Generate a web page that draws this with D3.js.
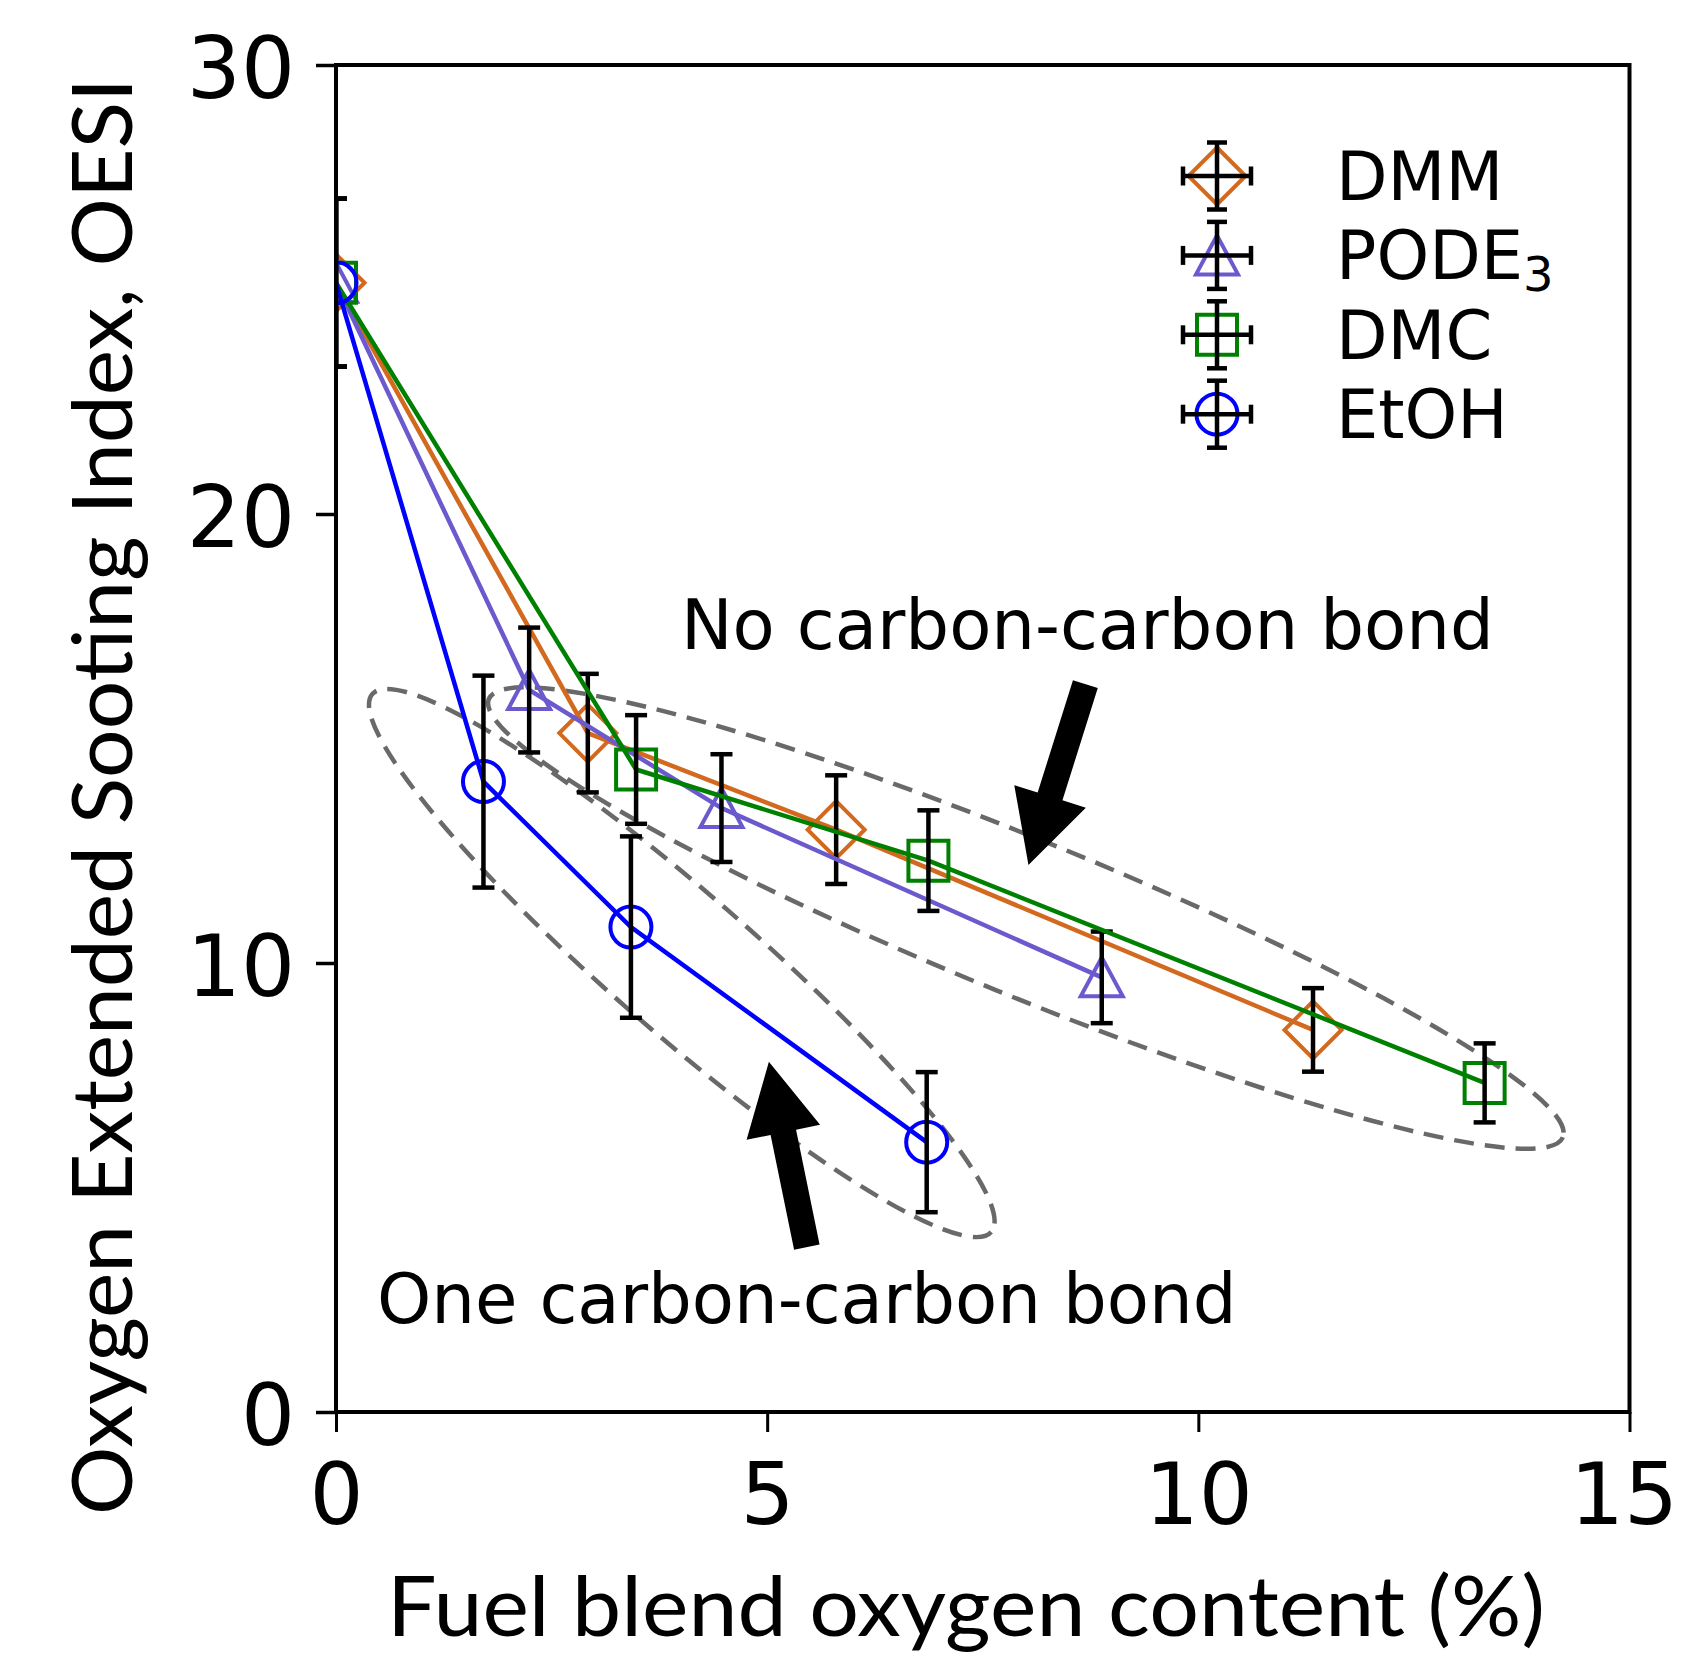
<!DOCTYPE html>
<html>
<head>
<meta charset="utf-8">
<script src="https://cdn.jsdelivr.net/npm/d3@7"></script>
<style>
  body { margin: 0; background: #fff; }
</style>
</head>
<body>
<script>
// Données (teneur en oxygène %, OESI, incertitude)
const seriesNames = ['DMM', 'PODE3', 'DMC', 'EtOH']

const dmmX = [0, 2.92, 5.80, 11.33]
const dmmY = [25.15, 15.12, 12.97, 8.51]
const dmmErr = [1.87, 1.32, 1.21, 0.93]

const podeX = [0, 2.24, 4.47, 8.88]
const podeY = [25.15, 16.08, 13.45, 9.68]
const podeErr = [1.87, 1.39, 1.20, 1.02]

const dmcX = [0, 3.48, 6.87, 13.32]
const dmcY = [25.15, 14.31, 12.28, 7.33]
const dmcErr = [1.87, 1.21, 1.12, 0.88]

const etohX = [0, 1.71, 3.42, 6.85]
const etohY = [25.15, 14.04, 10.80, 6.01]
const etohErr = [1.87, 2.36, 2.02, 1.56]

const xTicks = [0, 5, 10, 15]
const yTicks = [0, 10, 20, 30]

const W = 1682, H = 1654
let svg = d3.select('body').append('svg')
    .attr('width', W)
    .attr('height', H)
    .style('font-family', 'DejaVu Sans')

svg.append('rect').attr('width', W).attr('height', H).attr('fill', '#fff')

let x = d3.scaleLinear().domain([0, 15]).range([336, 1629.5])
let y = d3.scaleLinear().domain([0, 30]).range([1412, 65])

// style de chaque série
const styles = {
    DMM: { color: '#d2691e', marker: 'diamond' },
    PODE3: { color: '#6a5acd', marker: 'triangle' },
    DMC: { color: '#008000', marker: 'square' },
    EtOH: { color: '#0000ff', marker: 'circle' }
}

const series = [
    { name: 'DMM', xs: dmmX, ys: dmmY, es: dmmErr },
    { name: 'PODE3', xs: podeX, ys: podeY, es: podeErr },
    { name: 'DMC', xs: dmcX, ys: dmcY, es: dmcErr },
    { name: 'EtOH', xs: etohX, ys: etohY, es: etohErr }
].map(s => ({ name: s.name, pts: s.xs.map((v, i) => ({ x: v, y: s.ys[i], e: s.es[i] })) }))

// forme des marqueurs (centrés sur 0,0)
function markerPath(type) {
    switch (type) {
        case 'diamond': return 'M0,-28.5L28.5,0L0,28.5L-28.5,0Z'
        case 'triangle': return 'M0,-20L21,19L-21,19Z'
        case 'square': return 'M-20,-20H20V20H-20Z'
        case 'circle': return d3.arc()({ innerRadius: 0, outerRadius: 20.5, startAngle: 0, endAngle: 2 * Math.PI })
    }
}

// zone de tracé (clip)
svg.append('clipPath').attr('id', 'plotArea')
    .append('rect')
    .attr('x', x(0)).attr('y', y(30))
    .attr('width', x(15) - x(0)).attr('height', y(0) - y(30))

let plot = svg.append('g').attr('clip-path', 'url(#plotArea)')

// Ellipses en pointillés
const ellipses = [
    { cx: 8.0, cy: 11.0, rx: 580, ry: 78, angle: 22.2 },
    { cx: 4.01, cy: 10.0, rx: 410, ry: 70, angle: 41 }
]
ellipses.forEach(el => {
    plot.append('ellipse')
        .attr('cx', x(el.cx)).attr('cy', y(el.cy))
        .attr('rx', el.rx).attr('ry', el.ry)
        .attr('transform', `rotate(${el.angle},${x(el.cx)},${y(el.cy)})`)
        .attr('fill', 'none')
        .attr('stroke', '#696969')
        .attr('stroke-width', 4.5)
        .attr('stroke-dasharray', '20,11')
})

// Courbes, marqueurs, barres d'erreur
let line = d3.line().x(d => x(d.x)).y(d => y(d.y))
series.forEach(s => {
    let st = styles[s.name]
    plot.append('path')
        .datum(s.pts)
        .attr('d', line)
        .attr('fill', 'none')
        .attr('stroke', st.color)
        .attr('stroke-width', 4.5)

    plot.append('g').selectAll('path')
        .data(s.pts)
        .join('path')
        .attr('transform', d => `translate(${x(d.x)},${y(d.y)})`)
        .attr('d', markerPath(st.marker))
        .attr('fill', 'none')
        .attr('stroke', st.color)
        .attr('stroke-width', 4)

    let eb = plot.append('g').attr('stroke', 'black').attr('stroke-width', 4.5)
    s.pts.forEach(d => {
        let cx = x(d.x), y1 = y(d.y + d.e), y2 = y(d.y - d.e)
        eb.append('line').attr('x1', cx).attr('x2', cx).attr('y1', y1).attr('y2', y2)
        eb.append('line').attr('x1', cx - 11).attr('x2', cx + 11).attr('y1', y1).attr('y2', y1)
        eb.append('line').attr('x1', cx - 11).attr('x2', cx + 11).attr('y1', y2).attr('y2', y2)
    })
})

// Flèches noires
const arrows = [
    { from: [8.69, 16.21], to: [8.03, 12.18] },
    { from: [5.46, 3.67], to: [5.02, 7.80] }
]
arrows.forEach(a => {
    let tx = x(a.from[0]), ty = y(a.from[1]), px = x(a.to[0]), py = y(a.to[1])
    let len = Math.hypot(px - tx, py - ty)
    let ux = (px - tx) / len, uy = (py - ty) / len
    let nx = -uy, ny = ux
    let w = 13, h = 37.5, L = 72
    let bx = px - ux * L, by = py - uy * L
    let pts = [
        [tx + nx * w, ty + ny * w], [bx + nx * w, by + ny * w], [bx + nx * h, by + ny * h],
        [px, py],
        [bx - nx * h, by - ny * h], [bx - nx * w, by - ny * w], [tx - nx * w, ty - ny * w]
    ]
    plot.append('polygon').attr('points', pts.map(p => p.join(',')).join(' ')).attr('fill', 'black')
})

// Textes d'annotation
svg.append('text').attr('x', 681).attr('y', 649).attr('font-size', 69).text('No carbon-carbon bond')
svg.append('text').attr('x', 377).attr('y', 1323).attr('font-size', 69).text('One carbon-carbon bond')

// Axes
let xAxis = svg.append('g')
    .attr('transform', `translate(0,${y(0)})`)
    .call(d3.axisBottom(x).tickValues(xTicks).tickSize(20).tickSizeOuter(0))
xAxis.select('.domain').remove()
xAxis.selectAll('line').attr('stroke-width', 3)
xAxis.selectAll('text')
    .attr('y', 112).attr('dy', null)
    .attr('dx', (d, i) => i === xTicks.length - 1 ? -6 : 0)
    .attr('font-size', 85).attr('font-family', 'DejaVu Sans').attr('fill', 'black')

let yAxis = svg.append('g')
    .attr('transform', `translate(${x(0)},0)`)
    .call(d3.axisLeft(y).tickValues(yTicks).tickSize(20).tickSizeOuter(0))
yAxis.select('.domain').remove()
yAxis.selectAll('line').attr('stroke-width', 3.5)
yAxis.selectAll('text')
    .attr('x', -41).attr('dy', null).attr('y', 32)
    .attr('font-size', 85).attr('font-family', 'DejaVu Sans').attr('fill', 'black')

// cadre
svg.append('rect')
    .attr('x', x(0)).attr('y', y(30))
    .attr('width', x(15) - x(0)).attr('height', y(0) - y(30))
    .attr('fill', 'none').attr('stroke', 'black').attr('stroke-width', 4)

// Titres des axes
svg.append('text')
    .attr('x', 387).attr('y', 1636)
    .attr('font-family', 'Lato').attr('font-size', 84)
    .attr('textLength', 1158).attr('lengthAdjust', 'spacingAndGlyphs')
    .text('Fuel blend oxygen content (%)')

svg.append('text')
    .attr('transform', 'translate(132,796.5) rotate(-90)')
    .attr('text-anchor', 'middle')
    .attr('font-family', 'Lato').attr('font-size', 84)
    .attr('textLength', 1437).attr('lengthAdjust', 'spacingAndGlyphs')
    .text('Oxygen Extended Sooting Index, OESI')

// Légende
let legend = svg.append('g')
seriesNames.forEach((name, i) => {
    let st = styles[name]
    let cy = 176 + i * 79.4, cx = 1217
    let g = legend.append('g').attr('transform', `translate(${cx},${cy})`)
    g.append('path').attr('d', markerPath(st.marker))
        .attr('fill', 'none').attr('stroke', st.color).attr('stroke-width', 4)
    let eb = g.append('g').attr('stroke', 'black').attr('stroke-width', 4.5)
    eb.append('line').attr('x1', 0).attr('x2', 0).attr('y1', -33.5).attr('y2', 33.5)
    eb.append('line').attr('x1', -10).attr('x2', 10).attr('y1', -33.5).attr('y2', -33.5)
    eb.append('line').attr('x1', -10).attr('x2', 10).attr('y1', 33.5).attr('y2', 33.5)
    eb.append('line').attr('x1', -34).attr('x2', 34).attr('y1', 0).attr('y2', 0)
    eb.append('line').attr('x1', -34).attr('x2', -34).attr('y1', -9.5).attr('y2', 9.5)
    eb.append('line').attr('x1', 34).attr('x2', 34).attr('y1', -9.5).attr('y2', 9.5)

    let t = legend.append('text').attr('x', 1336).attr('y', cy + 24).attr('font-size', 67)
    if (name === 'PODE3') {
        t.append('tspan').text('PODE')
        t.append('tspan').attr('font-size', 48).attr('dy', 12).text('3')
    } else {
        t.text(name)
    }
})
</script>
</body>
</html>
